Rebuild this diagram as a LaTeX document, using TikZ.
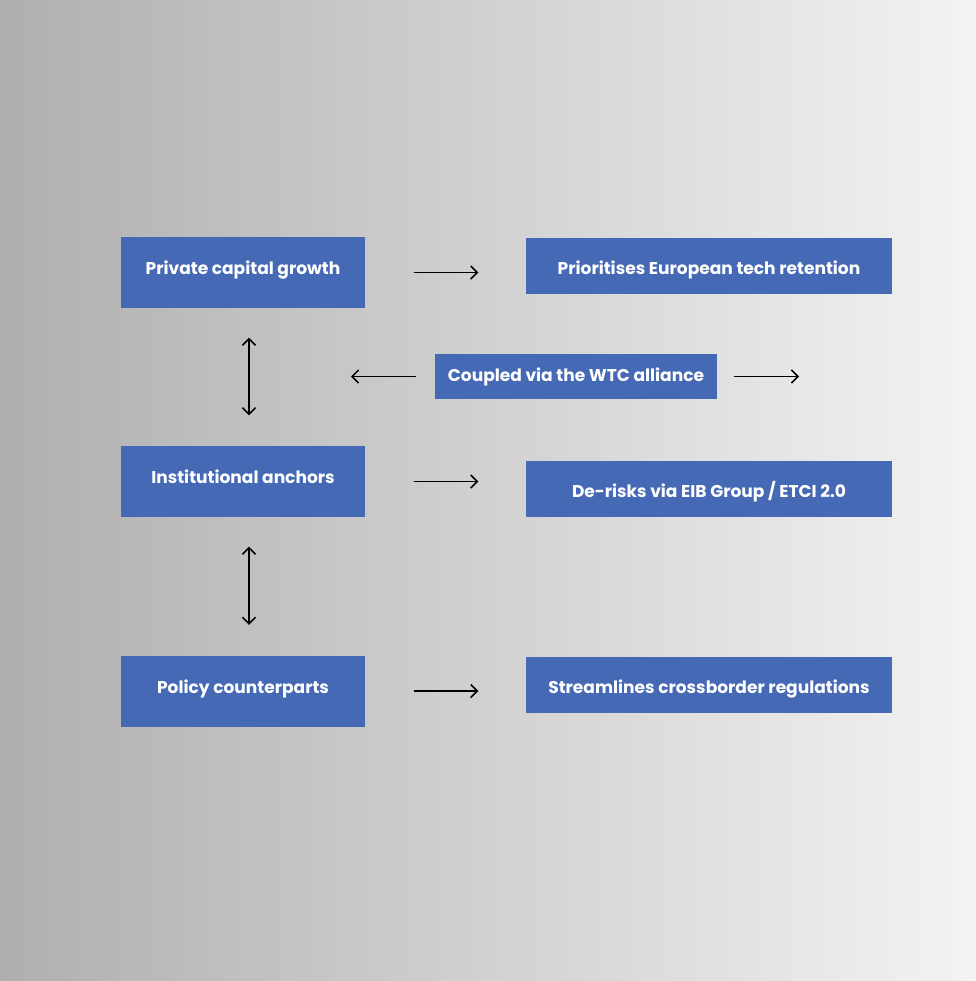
\documentclass[tikz,border=0pt]{standalone}
\usepackage{fontspec}
\setmainfont{Poppins}
\usetikzlibrary{arrows.meta}
\definecolor{boxblue}{RGB}{69,105,180}
\definecolor{bgleft}{RGB}{175,175,175}
\definecolor{bgright}{RGB}{243,243,243}

\begin{document}
\begin{tikzpicture}[x=0.02cm,y=-0.02cm,
    box/.style={fill=boxblue,text=white,inner sep=0pt,font=\bfseries\fontsize{9.7}{11}\selectfont},
    lbox/.style={box,minimum width=4.88cm,minimum height=1.42cm,text height=5pt,text depth=2.2pt},
    rbox/.style={box,minimum width=7.32cm,minimum height=1.12cm,text height=11pt,text depth=0.8pt},
    >={Straight Barb[length=1.3mm,width=2.6mm]}, line width=0.85pt]
  \shade[left color=bgleft,right color=bgright] (0,0) rectangle (976,981);

  \node[lbox] (private)    at (243,272.5) {Private capital growth};
  \node[lbox] (anchors)    at (243,481.5) {Institutional anchors};
  \node[lbox] (policy)     at (243,691)   {Policy counterparts};
  \node[rbox] (prioritise) at (709,266)   {Prioritises European tech retention};
  \node[rbox] (derisk)     at (709,489)   {De-risks via EIB Group / ETCI 2.0};
  \node[rbox] (streamline) at (709,685)   {Streamlines crossborder regulations};
  \node[box,minimum width=5.64cm,minimum height=0.9cm,text height=7.8pt,text depth=2pt] (coupled) at (576,376.5)
    {Coupled via the WTC alliance};
  \coordinate (coupledL) at (351,376.5);
  \coordinate (coupledR) at (799,376.5);

  \path[->]
    (private.east) edge[shorten <=0.96cm,shorten >=0.94cm] (private.east -| prioritise.west)
    (anchors.east) edge[shorten <=0.96cm,shorten >=0.94cm] (anchors.east -| derisk.west)
    (policy.east)  edge[shorten <=0.96cm,shorten >=0.94cm] (policy.east -| streamline.west)
    (coupled.west) edge[shorten <=0.36cm] (coupledL)
    (coupled.east) edge[shorten <=0.32cm] (coupledR);
  \path[<->]
    ([xshift=0.12cm]private.south) edge[shorten <=0.58cm,shorten >=0.6cm] ([xshift=0.12cm]anchors.north)
    ([xshift=0.12cm]anchors.south) edge[shorten <=0.58cm,shorten >=0.6cm] ([xshift=0.12cm]policy.north);
\end{tikzpicture}
\end{document}
